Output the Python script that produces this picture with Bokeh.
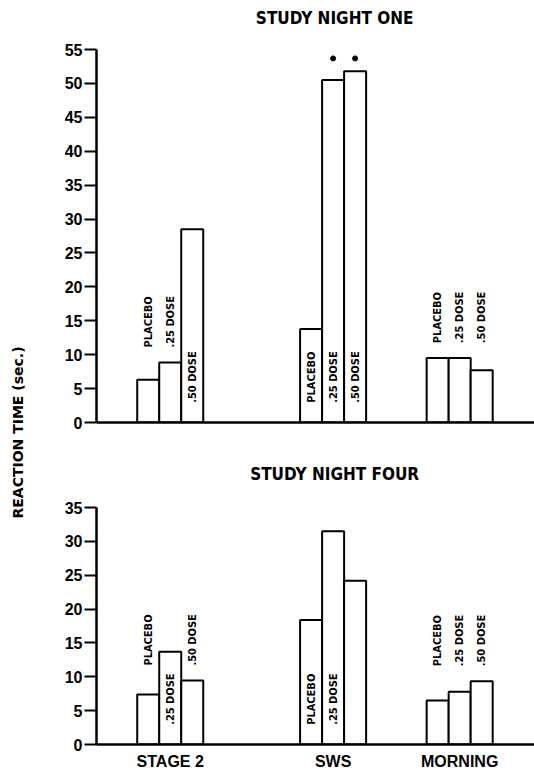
import math
from bokeh.plotting import figure
from bokeh.models import Range1d, FixedTicker, Label, ColumnDataSource
from bokeh.layouts import row, column
from bokeh.embed import file_html
from bokeh.resources import INLINE
from bokeh.core.properties import value

# ---------------- data ----------------
categories = ["STAGE 2", "SWS", "MORNING"]
doses = ["PLACEBO", ".25 DOSE", ".50 DOSE"]

night_one_placebo = [6.3, 13.8, 9.5]
night_one_dose25 = [8.85, 50.5, 9.5]
night_one_dose50 = [28.5, 51.8, 7.7]
night_one_sig_dose25 = [False, True, False]
night_one_sig_dose50 = [False, True, False]

night_four_placebo = [7.4, 18.4, 6.5]
night_four_dose25 = [13.7, 31.5, 7.8]
night_four_dose50 = [9.45, 24.2, 9.35]
night_four_label_dose50 = [True, False, True]

y_ticks_one = [0, 5, 10, 15, 20, 25, 30, 35, 40, 45, 50, 55]
y_ticks_four = [0, 5, 10, 15, 20, 25, 30, 35]

# ---------------- layout constants ----------------
GROUP_X = [3.35, 10.75, 16.5]
OFFSETS = [-1.0, 0.0, 1.0]
X_MAX = 19.9
INSIDE_MIN = 12.0
INSIDE_Y = 2.9
ABOVE_GAP = 2.2

TICK_FONT = "Liberation Sans"
LAB_FONT = "DejaVu Sans Condensed"


def make_panel(title, series, sig, show_lab, ticks, height, y_top, b_bottom,
               x_labels, title_y):
    ymax = ticks[-1]
    p = figure(width=496, height=height, output_backend="svg",
               toolbar_location=None, x_range=Range1d(0, X_MAX),
               y_range=Range1d(0, y_top), min_border_left=58,
               min_border_right=0, min_border_top=0,
               min_border_bottom=b_bottom)
    p.outline_line_color = None
    p.xgrid.grid_line_color = None
    p.ygrid.grid_line_color = None
    p.background_fill_color = "white"
    p.border_fill_color = "white"

    xs, tops = [], []
    lx, ty, txt = [], [], []
    dot_x, dot_y = [], []
    for g in range(len(categories)):
        vals = [s[g] for s in series]
        above = [v for v in vals if v < INSIDE_MIN]
        above_y = (max(above) + ABOVE_GAP) if above else 0
        for k, v in enumerate(vals):
            x = GROUP_X[g] + OFFSETS[k]
            xs.append(x)
            tops.append(v)
            if show_lab[k][g]:
                lx.append(x)
                txt.append(doses[k])
                ty.append(INSIDE_Y if v >= INSIDE_MIN else above_y)
            if sig[k][g]:
                dot_x.append(x)
                dot_y.append(max(vals) + 1.9)

    src = ColumnDataSource(dict(x=xs, top=tops))
    p.vbar(x="x", top="top", width=1.0, bottom=0, source=src,
           fill_color="white", line_color="black", line_width=2)
    p.text(x=lx, y=ty, text=txt, angle=math.pi / 2, text_align="left",
           text_baseline="middle", text_font=value(LAB_FONT),
           text_font_style="bold", text_font_size="11px",
           text_color="black")
    if dot_x:
        p.scatter(x=dot_x, y=dot_y, size=5, marker="circle",
                  fill_color="black", line_color="black")

    p.text(x=[GROUP_X[1] + 0.07], y=[title_y], text=[title],
           text_align="center", text_baseline="middle",
           text_font=value(LAB_FONT), text_font_style="bold",
           text_font_size="17px", text_color="black")

    ya = p.yaxis[0]
    ya.ticker = FixedTicker(ticks=ticks)
    ya.bounds = (0, ymax)
    ya.axis_line_width = 2.5
    ya.major_tick_line_width = 2
    ya.major_tick_out = 12
    ya.major_tick_in = 0
    ya.minor_tick_out = 0
    ya.minor_tick_in = 0
    ya.major_label_standoff = 2
    ya.major_label_text_font = TICK_FONT
    ya.major_label_text_font_style = "bold"
    ya.major_label_text_font_size = "16px"
    ya.major_label_text_color = "black"

    xa = p.xaxis[0]
    xa.axis_line_width = 2.5
    xa.major_tick_out = 0
    xa.major_tick_in = 0
    xa.minor_tick_out = 0
    xa.minor_tick_in = 0
    if x_labels:
        xa.ticker = FixedTicker(ticks=GROUP_X)
        xa.major_label_overrides = {gx: c for gx, c in zip(GROUP_X, categories)}
        xa.major_label_standoff = 8
        xa.major_label_text_font = TICK_FONT
        xa.major_label_text_font_style = "bold"
        xa.major_label_text_font_size = "16px"
        xa.major_label_text_color = "black"
    else:
        xa.ticker = FixedTicker(ticks=[])
        xa.major_label_text_font_size = "0px"
        xa.major_label_standoff = 0
    return p


top = make_panel("STUDY NIGHT ONE",
                 [night_one_placebo, night_one_dose25, night_one_dose50],
                 [[False] * 3, night_one_sig_dose25, night_one_sig_dose50],
                 [[True] * 3, [True] * 3, [True] * 3],
                 y_ticks_one, 440, 62.24, 18, False, 59.7)

bottom = make_panel("STUDY NIGHT FOUR",
                    [night_four_placebo, night_four_dose25, night_four_dose50],
                    [[False] * 3, [False] * 3, [False] * 3],
                    [[True] * 3, [True] * 3, night_four_label_dose50],
                    y_ticks_four, 333, 44.9, 29, True, 40.0)

lab = figure(width=38, height=773, output_backend="svg", toolbar_location=None,
             x_range=Range1d(0, 38), y_range=Range1d(0, 773),
             x_axis_location=None, y_axis_location=None, min_border=0)
lab.outline_line_color = None
lab.xgrid.grid_line_color = None
lab.ygrid.grid_line_color = None
lab.add_layout(Label(x=17.5, y=773 - 432, text="REACTION TIME (sec.)",
                     angle=math.pi / 2, text_align="center",
                     text_baseline="middle", text_font="DejaVu Sans",
                     text_font_style="bold", text_font_size="14px",
                     text_color="black"))

layout = row(lab, column(top, bottom))
open("out.html", "w").write(file_html(layout, INLINE))
